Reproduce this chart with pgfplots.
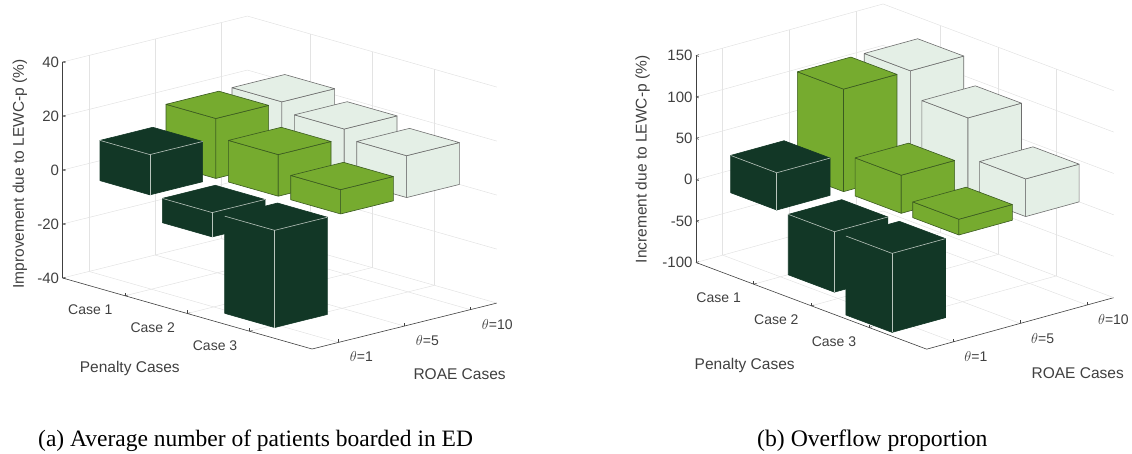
\documentclass[border=0pt]{standalone}
\usepackage{pgfplots}
\pgfplotsset{compat=1.18}
\usepackage{fontspec}
\setmainfont{Liberation Sans}
\newfontfamily\capfont{Liberation Serif}
\definecolor{barD}{HTML}{123726}
\definecolor{barG}{HTML}{76AB2F}
\definecolor{barL}{HTML}{E4EFE6}
\definecolor{edgeD}{HTML}{B8C4BC}
\definecolor{edgeG}{HTML}{3A5A20}
\definecolor{edgeL}{HTML}{6E6E6E}
\definecolor{axgray}{HTML}{404040}
\definecolor{gridgray}{HTML}{E3E3E3}
% \threebar{case}{theta index}{value}{fill}{edge}: one bar from 0 to value
\newcommand\threebar[5]{%
  \pgfmathsetmacro\xa{#1-0.4}\pgfmathsetmacro\xb{#1+0.4}%
  \pgfmathsetmacro\ya{#2-0.4}\pgfmathsetmacro\yb{#2+0.4}%
  \pgfmathsetmacro\zt{max(#3,0)}\pgfmathsetmacro\zb{min(#3,0)}%
  \edef\tmp{%
  \noexpand\addplot3[fill=#4,draw=#5,line width=0.6pt,mark=none,line join=round] coordinates {(\xa,\ya,\zb)(\xb,\ya,\zb)(\xb,\ya,\zt)(\xa,\ya,\zt)(\xa,\ya,\zb)};
  \noexpand\addplot3[fill=#4,draw=#5,line width=0.6pt,mark=none,line join=round] coordinates {(\xb,\ya,\zb)(\xb,\yb,\zb)(\xb,\yb,\zt)(\xb,\ya,\zt)(\xb,\ya,\zb)};
  \noexpand\addplot3[fill=#4,draw=#5,line width=0.6pt,mark=none,line join=round] coordinates {(\xa,\ya,\zt)(\xb,\ya,\zt)(\xb,\yb,\zt)(\xa,\yb,\zt)(\xa,\ya,\zt)};
  }\tmp}
% dark bars: silhouette in the fill colour, inner edges light
\newcommand\darkbar[3]{%
  \threebar{#1}{#2}{#3}{barD}{barD}%
  \edef\tmpb{%
  \noexpand\addplot3[draw=edgeD,line width=0.6pt,mark=none] coordinates {(\xa,\ya,\zt)(\xb,\ya,\zt)(\xb,\yb,\zt)};
  \noexpand\addplot3[draw=edgeD,line width=0.6pt,mark=none] coordinates {(\xb,\ya,\zt)(\xb,\ya,\zb)};
  }\tmpb}
\pgfplotsset{barpanel/.style={
  clip=false,
  xmin=0,xmax=4,ymin=0.6,ymax=3.4,
  xtick={1,2,3},ytick={1,2,3},
  xticklabels={Case 1,Case 2,Case 3},
  yticklabels={$\theta$=1,$\theta$=5,$\theta$=10},
  grid=major,
  major grid style={gridgray,line width=0.5pt},
  axis x line*=bottom,axis y line*=left,axis z line*=left,
  axis line style={axgray,line width=0.6pt,-},
  tick style={axgray,line width=0.5pt},
  major tick length=3pt,
  font=\fontsize{14}{16}\selectfont,
  tick label style={axgray},
  label style={axgray,font=\fontsize{15.5}{18}\selectfont},
  /pgf/number format/assume math mode=true,
  z tick label style={anchor=east,font=\fontsize{15}{17}\selectfont},
}}
\begin{document}
\begin{tikzpicture}[x=1pt,y=1pt]
\path[use as bounding box] (0,0) rectangle (1132,454);
\begin{axis}[barpanel,
  at={(62.6pt,284pt)},anchor=origin,
  x={(62.35pt,-17.75pt)},y={(66pt,16.4pt)},z={(0pt,2.7pt)},
  zmin=-40,zmax=40,ztick={-40,-20,0,20,40},
  x tick label style={anchor=center,xshift=-34.6pt,yshift=-14pt},
  y tick label style={anchor=west,xshift=8pt,yshift=-14.5pt},
  xlabel={Penalty Cases},ylabel={ROAE Cases},zlabel={Improvement due to LEWC-p (\%)},
  xlabel style={at={(axis cs:0,0.6,-40)},anchor=center,xshift=67.2pt,yshift=-90.5pt},
  ylabel style={at={(axis cs:0,0.6,-40)},anchor=center,xshift=397pt,yshift=-96pt},
  zlabel style={at={(axis cs:0,0.6,-40)},anchor=center,xshift=104pt,yshift=42.8pt},
]
\threebar{1}{3}{22.3}{barL}{edgeL}
\threebar{2}{3}{18.8}{barL}{edgeL}
\threebar{3}{3}{15.5}{barL}{edgeL}
\threebar{1}{2}{22.2}{barG}{edgeG}
\threebar{2}{2}{15.4}{barG}{edgeG}
\threebar{3}{2}{9.0}{barG}{edgeG}
\darkbar{1}{1}{14.9}
\darkbar{2}{1}{-9.0}
\darkbar{3}{1}{-36.0}
\end{axis}
\begin{axis}[barpanel,
  at={(696pt,274.3pt)},anchor=origin,
  x={(57.67pt,-21.67pt)},y={(66.8pt,18.4pt)},z={(0pt,0.828pt)},
  zmin=-100,zmax=150,ztick={-100,-50,0,50,100,150},
  x tick label style={anchor=center,xshift=-35pt,yshift=-14pt},
  y tick label style={anchor=west,xshift=7.5pt,yshift=-14.7pt},
  xlabel={Penalty Cases},ylabel={ROAE Cases},zlabel={Increment due to LEWC-p (\%)},
  xlabel style={at={(axis cs:0,0.6,-100)},anchor=center,xshift=48.7pt,yshift=-102.7pt},
  ylabel style={at={(axis cs:0,0.6,-100)},anchor=center,xshift=381.7pt,yshift=-110.7pt},
  zlabel style={at={(axis cs:0,0.6,-100)},anchor=center,xshift=103pt,yshift=53.3pt},
]
\threebar{1}{3}{123.7}{barL}{edgeL}
\threebar{2}{3}{93}{barL}{edgeL}
\threebar{3}{3}{45.5}{barL}{edgeL}
\threebar{1}{2}{123.8}{barG}{edgeG}
\threebar{2}{2}{46}{barG}{edgeG}
\threebar{3}{2}{19}{barG}{edgeG}
\darkbar{1}{1}{45}
\darkbar{2}{1}{-73}
\darkbar{3}{1}{-95.4}
\end{axis}
\node[anchor=base west,font=\capfont\fontsize{23.5}{26}\selectfont,inner sep=0] at (38,7.5) {(a) Average number of patients boarded in ED};
\node[anchor=base west,font=\capfont\fontsize{23.7}{26}\selectfont,inner sep=0] at (757,7.5) {(b) Overflow proportion};
\end{tikzpicture}
\end{document}
